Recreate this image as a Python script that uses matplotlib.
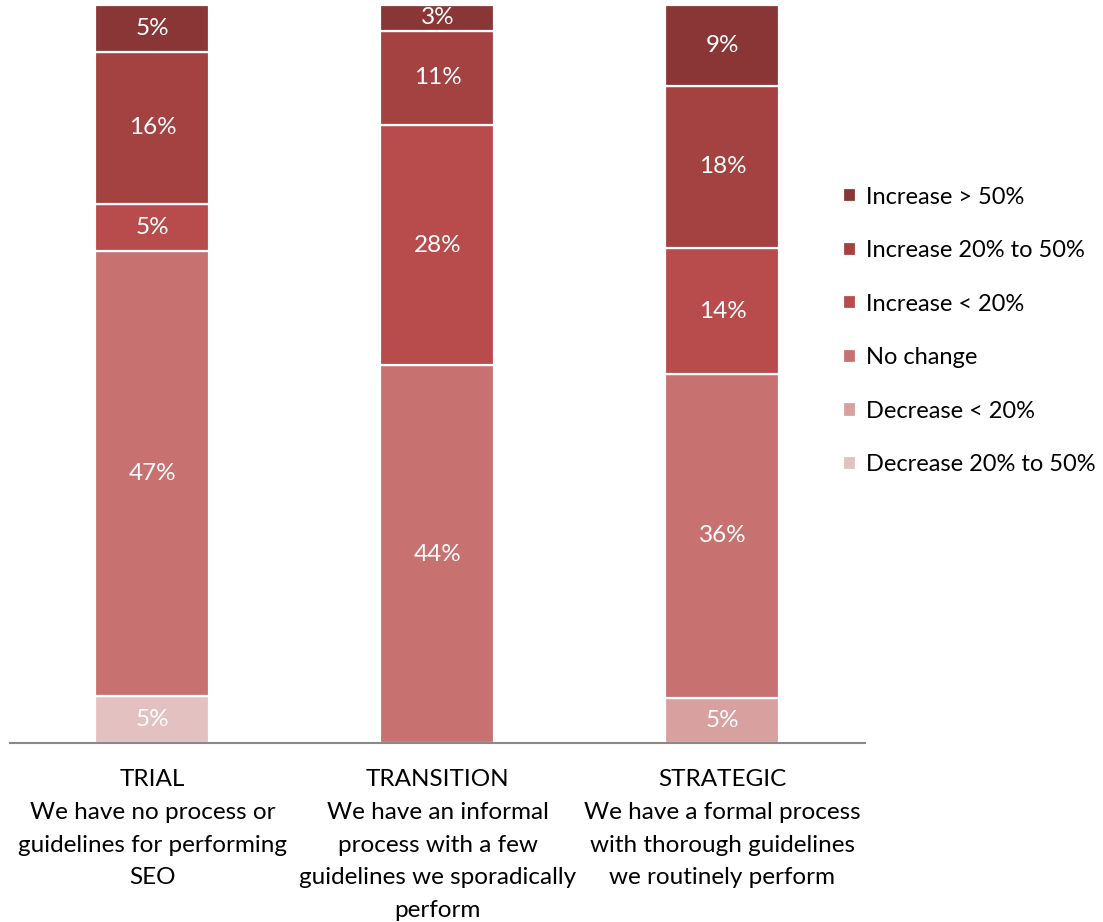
import matplotlib
matplotlib.use("Agg")
import matplotlib.pyplot as plt
import numpy as np

categories = ["TRIAL\nWe have no process or\nguidelines for performing\nSEO",
              "TRANSITION\nWe have an informal\nprocess with a few\nguidelines we sporadically\nperform",
              "STRATEGIC\nWe have a formal process\nwith thorough guidelines\nwe routinely perform"]
series_names = ["Decrease 20% to 50%", "Decrease < 20%", "No change",
                "Increase < 20%", "Increase 20% to 50%", "Increase > 50%"]
decrease_20_50 = [5, 0, 0]
decrease_lt20 = [0, 0, 5]
no_change = [47, 44, 36]
increase_lt20 = [5, 28, 14]
increase_20_50 = [16, 11, 18]
increase_gt50 = [5, 3, 9]
colors = ["#e4c1c1", "#d9a0a0", "#c87171", "#b84b4b", "#a44141", "#8b3636"]

series = [decrease_20_50, decrease_lt20, no_change, increase_lt20, increase_20_50, increase_gt50]
data = np.array(series, dtype=float)
totals = data.sum(axis=0)
shares = data / totals * 100

plt.rcParams['font.family'] = ['Lato', 'DejaVu Sans']

fig = plt.figure(figsize=(11.03, 9.22), dpi=100)
ax = fig.add_axes([10/1103, (922-743)/922, 855/1103, 738/922])

x = np.arange(len(categories))
bottom = np.zeros(len(categories))
handles = []
for i, (name, col) in enumerate(zip(series_names, colors)):
    bars = ax.bar(x, shares[i], 0.4, bottom=bottom, color=col, edgecolor="white",
                  linewidth=1.6, label=name)
    handles.append(bars)
    for j in range(len(categories)):
        if data[i, j] > 0:
            ax.text(x[j], bottom[j] + shares[i, j] / 2, f"{int(data[i, j])}%",
                    ha="center", va="center", color="white", fontsize=17.5)
    bottom += shares[i]

ax.set_xlim(-0.5, 2.5)
ax.set_ylim(0, 100)
ax.set_yticks([])
ax.set_xticks(x)
ax.set_xticklabels(categories, fontsize=17.5, linespacing=1.68)
ax.tick_params(axis="x", length=0, pad=19)
for s in ["top", "right", "left"]:
    ax.spines[s].set_visible(False)
ax.spines["bottom"].set_color("#898989")
ax.spines["bottom"].set_linewidth(1.5)

leg = fig.legend(handles[::-1], series_names[::-1], loc="center left",
                 bbox_to_anchor=(822/1103, 1 - 331/922), frameon=False,
                 fontsize=17, handlelength=0.55, handleheight=0.55,
                 handletextpad=0.4, labelspacing=1.38)

fig.savefig("out.png", dpi=100)
